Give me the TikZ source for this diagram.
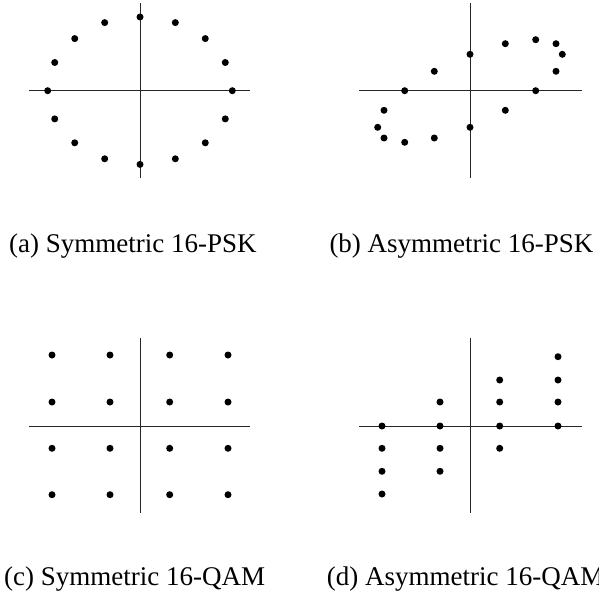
\documentclass[tikz,border=0pt]{standalone}
\usepackage{fontspec}
\setmainfont{Liberation Serif}
\begin{document}
\begin{tikzpicture}[x=1pt,y=-1pt,
  axis/.style={line width=0.75pt,black!85},
  dot/.style={fill=black},
  captext/.style={anchor=base west,inner sep=0pt,font=\fontsize{27}{30}\selectfont}]
\useasboundingbox (0,0) rectangle (599,594);
% (a) symmetric 16-PSK
\draw[axis] (29,90.7) -- (250,90.7);
\draw[axis] (140,3) -- (140,178);
\foreach \k in {0,...,15}
  \fill[dot] ({140+92.3*cos(22.5*\k)},{90.7-73.7*sin(22.5*\k)}) circle (3.5);
% (b) asymmetric 16-PSK
\draw[axis] (359,90.7) -- (581.7,90.7);
\draw[axis] (470,3) -- (470,178);
\foreach \x/\y in {470/54.3,505.3/43.7,535.7/39.7,556/43.7,562.3/54.3,556/71.3,535.7/90.7,505.3/110.3,
  470/127.3,434.3/138,404.7/142.3,384/138,377.7/127.3,384/110.3,404.7/90.7,434.3/71.3}
  \fill[dot] (\x,\y) circle (3.5);
% (c) symmetric 16-QAM
\draw[axis] (29,426) -- (250,426);
\draw[axis] (140,338.3) -- (140,513.3);
\foreach \x in {52,110,169.7,228}
  \foreach \y in {355,402,448.3,494.7}
    \fill[dot] (\x,\y) circle (3.5);
% (d) asymmetric 16-QAM
\draw[axis] (359,426) -- (581.7,426);
\draw[axis] (470,338.3) -- (470,513.3);
\foreach \x/\y in {382/426,382/448.3,382/471.3,382/494,
  440/402,440/426,440/448.3,440/471.3,
  499.7/380,499.7/402,499.7/426,499.7/448.3,
  558/356.7,558/380,558/402,558/426}
  \fill[dot] (\x,\y) circle (3.5);
% captions
\node[captext] (capa) at (9,252) {(a) Symmetric 16-PSK};
\node[captext] (capb) at (329.3,252) {(b) Asymmetric 16-PSK};
\node[captext] (capc) at (4,585.5) {(c) Symmetric 16-QAM};
\node[captext] (capd) at (326.7,585.5) {(d) Asymmetric 16-QAM};
\end{tikzpicture}
\end{document}
